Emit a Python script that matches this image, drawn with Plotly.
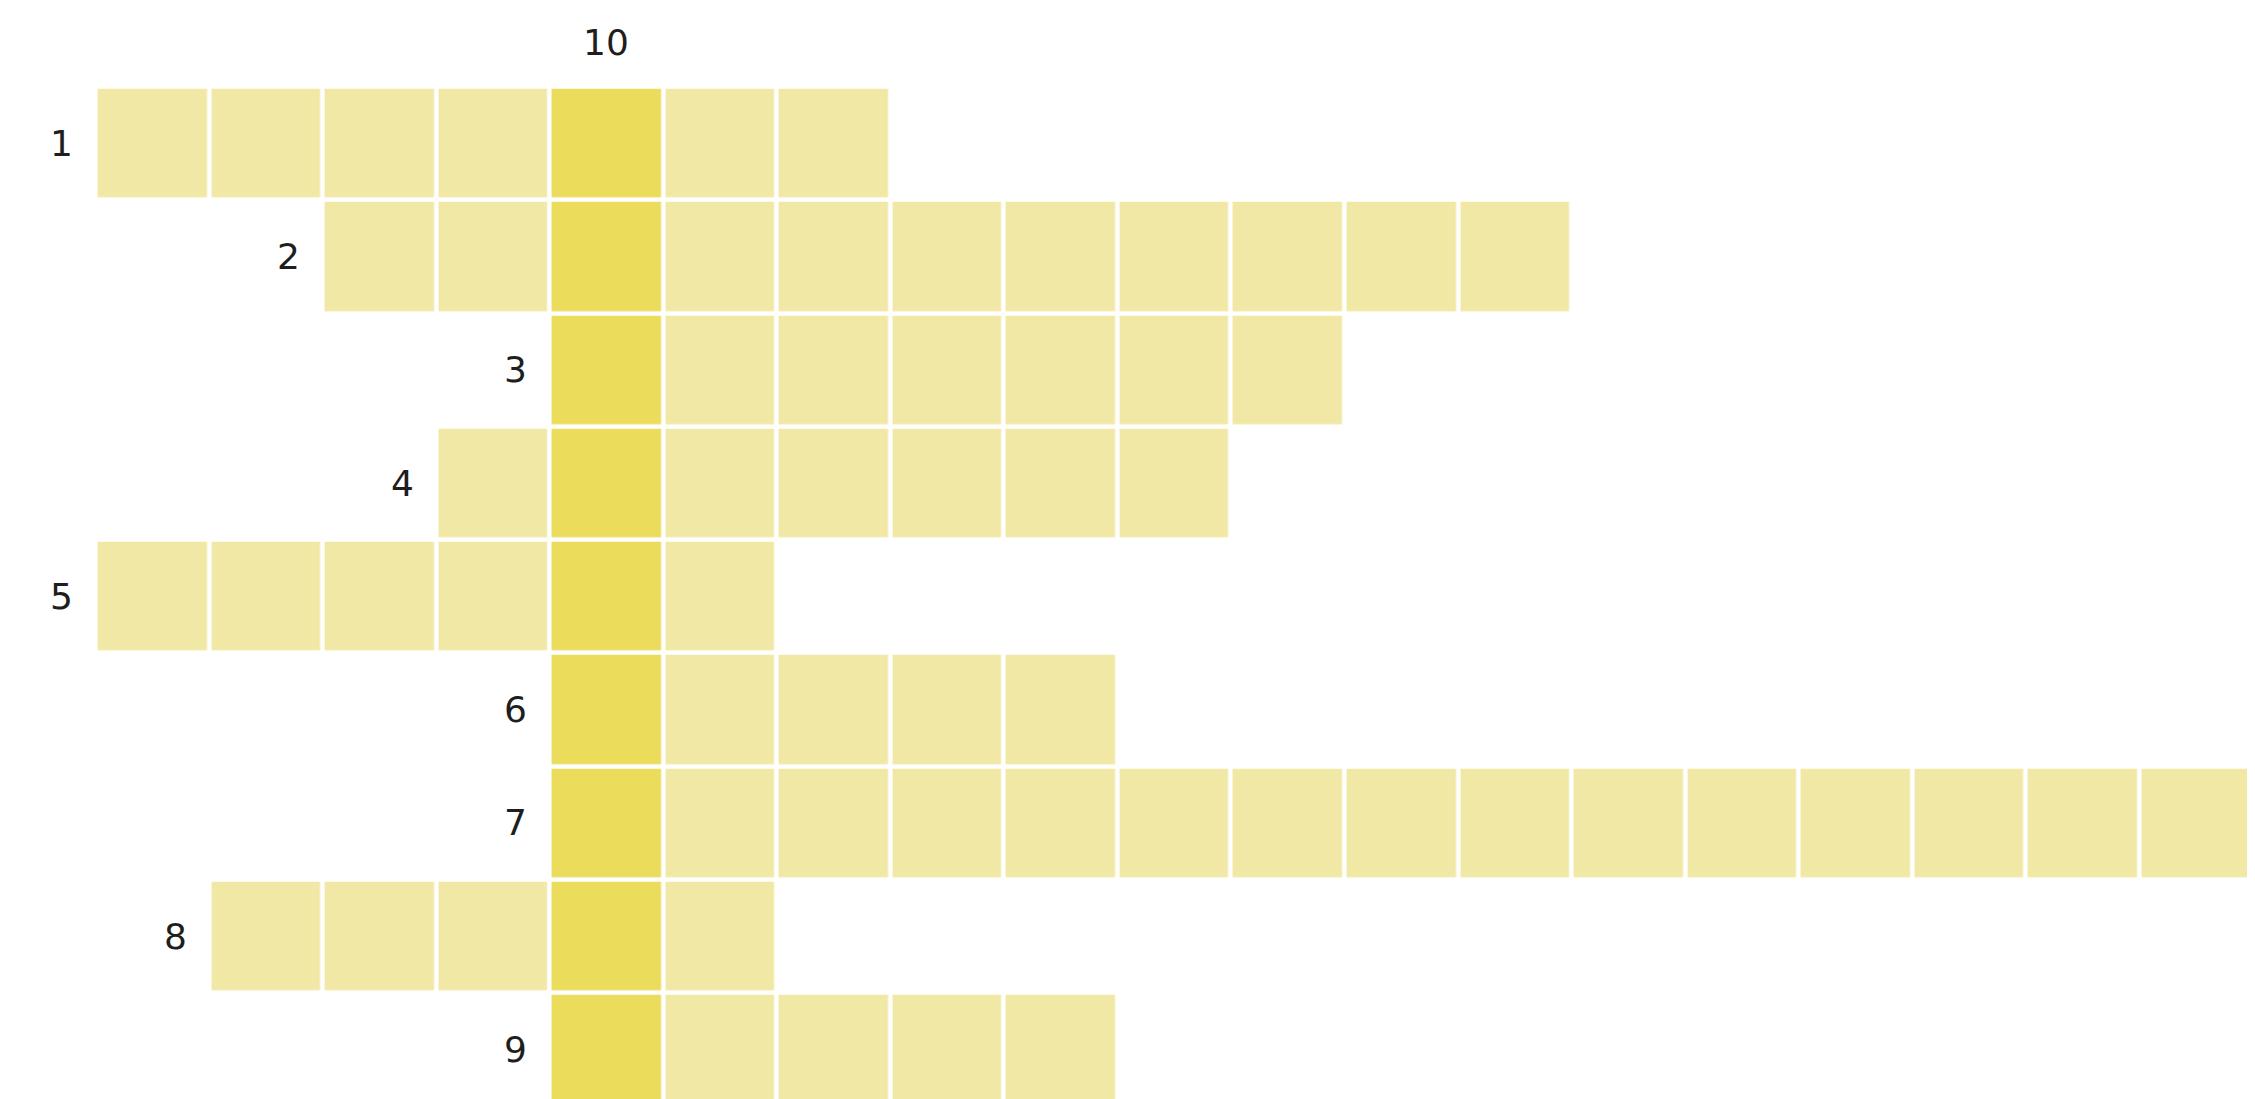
import plotly.graph_objects as go

# Crossword grid data
row_labels = ["1", "2", "3", "4", "5", "6", "7", "8", "9"]
row_starts = [0, 2, 4, 3, 0, 4, 4, 1, 4]        # first column of each answer
row_lengths = [7, 11, 7, 7, 6, 5, 15, 5, 5]      # number of cells in each answer
key_column = 4                                   # vertical answer column
key_label = "10"
n_cols = 19

LIGHT = "#f0e8a4"
DARK = "#ebdc5b"

z = []
for s, n in zip(row_starts, row_lengths):
    row = [None] * n_cols
    for c in range(s, s + n):
        row[c] = 1 if c == key_column else 0
    z.append(row)

fig = go.Figure(
    go.Heatmap(
        z=z,
        x=list(range(n_cols)),
        y=list(range(len(row_labels))),
        colorscale=[[0, LIGHT], [1, DARK]],
        zmin=0, zmax=1,
        showscale=False,
        xgap=4.5, ygap=4.5,
        hoverinfo="skip",
    )
)

font = dict(family="DejaVu Sans", size=36, color="#1e1e1e")
for i, (lab, s) in enumerate(zip(row_labels, row_starts)):
    fig.add_annotation(x=s - 0.68, y=i, text=lab, showarrow=False,
                       xanchor="right", yanchor="middle", font=font)
fig.add_annotation(x=key_column, y=-0.89, text=key_label, showarrow=False,
                   xanchor="center", yanchor="middle", font=font)

fig.update_xaxes(range=[-1.271, 18.589], visible=False, showgrid=False, zeroline=False)
fig.update_yaxes(range=[8.509, -1.195], visible=False, showgrid=False, zeroline=False)
fig.update_layout(
    width=2255, height=1099,
    margin=dict(l=0, r=0, t=0, b=0),
    paper_bgcolor="white", plot_bgcolor="white",
    showlegend=False,
)
fig.write_html("out.html")
